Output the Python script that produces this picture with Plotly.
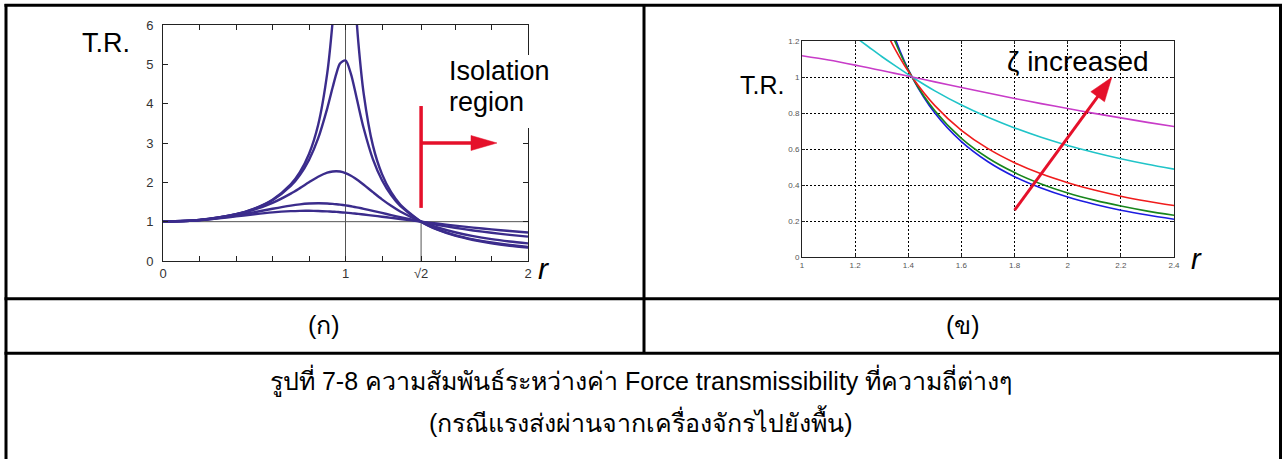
import math
import plotly.graph_objects as go

W, H = 1282, 459

# ---------------- left panel: T.R. versus r, five damping ratios ----------------
r_left = [0, 0.2, 0.4, 0.5, 0.6, 0.7, 0.75, 0.8, 0.85, 0.9, 0.93, 0.95, 0.97, 1.0,
          1.03, 1.05, 1.07, 1.1, 1.15, 1.2, 1.25, 1.3, 1.4142, 1.5, 1.6, 1.7, 1.8, 1.9, 2.0]
tr_left_z005 = [1.0, 1.042, 1.190, 1.332, 1.558, 1.947, 2.259, 2.720, 3.458, 4.776, 6.12, 7.38, 8.85, 10.05,
                8.40, 6.85, 5.58, 4.244, 2.940, 2.208, 1.749, 1.436, 1.0, 0.803, 0.646, 0.535, 0.452, 0.389, 0.339]
tr_left_z010 = [1.0, 1.042, 1.189, 1.328, 1.547, 1.909, 2.186, 2.571, 3.117, 3.882, 4.424, 4.766, 5.023, 5.099,
                4.753, 4.373, 3.957, 3.367, 2.591, 2.052, 1.675, 1.401, 1.0, 0.812, 0.659, 0.550, 0.469, 0.406, 0.356]
tr_left_z025 = [1.0, 1.041, 1.181, 1.304, 1.477, 1.713, 1.853, 2.001, 2.141, 2.245, 2.277, 2.283, 2.275, 2.236,
                2.169, 2.111, 2.046, 1.938, 1.750, 1.567, 1.403, 1.258, 1.0, 0.858, 0.731, 0.633, 0.557, 0.497, 0.447]
tr_left_z050 = [1.0, 1.040, 1.158, 1.240, 1.329, 1.409, 1.440, 1.460, 1.468, 1.463, 1.453, 1.444, 1.434, 1.414,
                1.391, 1.374, 1.356, 1.327, 1.276, 1.222, 1.168, 1.114, 1.0, 0.923, 0.844, 0.776, 0.717, 0.665, 0.620]
tr_left_z070 = [1.0, 1.039, 1.135, 1.190, 1.237, 1.267, 1.275, 1.276, 1.272, 1.262, 1.254, 1.248, 1.241, 1.229,
                1.216, 1.207, 1.197, 1.181, 1.154, 1.126, 1.097, 1.067, 1.0, 0.952, 0.899, 0.849, 0.804, 0.763, 0.725]
left_series = [tr_left_z005, tr_left_z010, tr_left_z025, tr_left_z050, tr_left_z070]

left_tickvals = [0, 0.2, 0.4, 0.6, 0.8, 1.0, 1.2, 1.4142, 1.6, 1.8, 2.0]
left_ticktext = ["0", "", "", "", "", "1", "", "√2", "", "", "2"]
left_yticks = [0, 1, 2, 3, 4, 5, 6]

# ---------------- right panel: zoom on the isolation region ----------------
r_right = [1.0, 1.1, 1.2, 1.25, 1.3, 1.35, 1.4142, 1.5, 1.6, 1.7, 1.8, 1.9, 2.0, 2.1, 2.2, 2.3, 2.4]
tr_right_blue = [None, None, 2.273, 1.778, 1.449, 1.216, 1.0, 0.800, 0.641, 0.529, 0.446, 0.383, 0.333, 0.293, 0.260, 0.233, 0.210]
tr_right_green = [None, None, 2.052, 1.675, 1.401, 1.197, 1.0, 0.812, 0.659, 0.550, 0.469, 0.406, 0.356, 0.316, 0.283, 0.255, 0.232]
tr_right_red = [None, None, 1.704, 1.486, 1.305, 1.155, 1.0, 0.841, 0.704, 0.602, 0.524, 0.462, 0.413, 0.372, 0.338, 0.310, 0.286]
tr_right_cyan = [1.414, 1.327, 1.222, 1.168, 1.114, 1.063, 1.0, 0.923, 0.844, 0.776, 0.717, 0.665, 0.620, 0.581, 0.546, 0.515, 0.488]
tr_right_magenta = [1.118, 1.094, 1.066, 1.051, 1.036, 1.020, 1.0, 0.973, 0.942, 0.911, 0.881, 0.852, 0.825, 0.798, 0.773, 0.748, 0.725]
right_series = [tr_right_blue, tr_right_green, tr_right_red, tr_right_cyan, tr_right_magenta]
right_colors = ["#1c1ce0", "#18861c", "#f01c1c", "#20c4c8", "#c83cc8"]

right_xticks = [1, 1.2, 1.4, 1.6, 1.8, 2, 2.2, 2.4]
right_yticks = [0, 0.2, 0.4, 0.6, 0.8, 1, 1.2]

# panel boxes in pixels (left, top, right, bottom)
L_BOX = (163, 25, 528, 261)
R_BOX = (802, 41, 1174, 257)
L_RANGE = ((0, 2), (0, 6))
R_RANGE = ((1, 2.4), (0, 1.2))

PURPLE = "#3b2c8c"
RED = "#e5102a"
FONT = "Liberation Sans, Arial, sans-serif"
CAPTION_FONT = "Liberation Sans Narrow, Arial Narrow, Liberation Sans, sans-serif"


def px(x):
    return x / W


def py(y):
    return 1 - y / H


fig = go.Figure()

for ys in left_series:
    fig.add_trace(go.Scatter(x=r_left, y=ys, mode="lines", xaxis="x", yaxis="y",
                             line=dict(color=PURPLE, width=2.4, shape="spline", smoothing=0.8),
                             hoverinfo="skip", cliponaxis=True))

for ys, col in zip(right_series, right_colors):
    fig.add_trace(go.Scatter(x=r_right, y=ys, mode="lines", xaxis="x2", yaxis="y2",
                             line=dict(color=col, width=1.6, shape="spline", smoothing=0.8),
                             hoverinfo="skip", connectgaps=False))

shapes = []

# reference lines on the left panel
shapes.append(dict(type="line", xref="x", yref="y", x0=1, x1=1, y0=0, y1=6,
                   line=dict(color="#555555", width=1), layer="below"))
shapes.append(dict(type="line", xref="x", yref="y", x0=0, x1=2, y0=1, y1=1,
                   line=dict(color="#555555", width=1), layer="below"))
shapes.append(dict(type="line", xref="x", yref="y", x0=1.4142, x1=1.4142, y0=0, y1=1,
                   line=dict(color="#555555", width=1), layer="below"))


def arrow(x0, y0, x1, y1, box, rng, xref, yref, head_len, head_w, width):
    """Red arrow: a line plus a filled triangular head, sized in pixels."""
    sx = (box[2] - box[0]) / (rng[0][1] - rng[0][0])
    sy = (box[3] - box[1]) / (rng[1][1] - rng[1][0])
    dx, dy = (x1 - x0) * sx, (y1 - y0) * sy
    n = math.hypot(dx, dy)
    ux, uy = dx / n, dy / n
    bx, by = x1 - ux * head_len / sx, y1 - uy * head_len / sy
    nx, ny = -uy, ux
    p1 = (bx + nx * head_w / 2 / sx, by + ny * head_w / 2 / sy)
    p2 = (bx - nx * head_w / 2 / sx, by - ny * head_w / 2 / sy)
    out = [dict(type="line", xref=xref, yref=yref, x0=x0, y0=y0,
                x1=bx + ux * 2 / sx, y1=by + uy * 2 / sy,
                line=dict(color=RED, width=width), layer="above"),
           dict(type="path", xref=xref, yref=yref,
                path=f"M{x1},{y1} L{p1[0]},{p1[1]} L{p2[0]},{p2[1]} Z",
                fillcolor=RED, line=dict(color=RED, width=0.5), layer="above")]
    return out


# white box behind "Isolation region" that interrupts the frame
shapes.append(dict(type="rect", xref="paper", yref="paper", x0=px(442), x1=px(560),
                   y0=py(128), y1=py(55), fillcolor="white", line=dict(width=0), layer="above"))

# isolation-region marker
shapes.append(dict(type="line", xref="x", yref="y", x0=1.4142, x1=1.4142, y0=1.35, y1=3.94,
                   line=dict(color=RED, width=3.5), layer="above"))
shapes += arrow(1.4142, 3.0, 1.83, 3.0, L_BOX, L_RANGE, "x", "y", 26, 15, 3.5)

# damping arrow on the right panel
shapes += arrow(1.8, 0.26, 2.166, 0.998, R_BOX, R_RANGE, "x2", "y2", 24, 17, 3)

# table rules
TL = dict(color="black", width=3)
shapes += [
    dict(type="line", xref="paper", yref="paper", x0=px(4.5), x1=px(1282), y0=py(5.3), y1=py(5.3), line=TL),
    dict(type="line", xref="paper", yref="paper", x0=px(6), x1=px(6), y0=py(4), y1=0, line=TL),
    dict(type="line", xref="paper", yref="paper", x0=px(1280.5), x1=px(1280.5), y0=py(4), y1=0, line=TL),
    dict(type="line", xref="paper", yref="paper", x0=px(644), x1=px(644), y0=py(4), y1=py(354), line=TL),
    dict(type="line", xref="paper", yref="paper", x0=px(4.5), x1=px(1282), y0=py(298.7), y1=py(298.7), line=TL),
    dict(type="line", xref="paper", yref="paper", x0=px(4.5), x1=px(1282), y0=py(353.3), y1=py(353.3), line=TL),
]

annotations = []


def label(text, x, y, size, xanchor="center", yanchor="middle", italic=False, color="black", family=FONT):
    annotations.append(dict(text=f"<i>{text}</i>" if italic else text, x=px(x), y=py(y),
                            xref="paper", yref="paper", showarrow=False,
                            xanchor=xanchor, yanchor=yanchor,
                            font=dict(family=family, size=size, color=color)))


label("T.R.", 106, 43, 27)
label("Isolation", 447, 71, 27, xanchor="left")
label("region", 447, 102, 27, xanchor="left")
label("r", 543, 268, 30, italic=True)

label("T.R.", 762, 85, 25)
label("ζ increased", 1078, 61, 28)
label("r", 1196, 259, 29, italic=True)

label("(ก)", 324, 325, 25, family=CAPTION_FONT)
label("(ข)", 963, 325, 25, family=CAPTION_FONT)
label("รูปที่ 7-8 ความสัมพันธ์ระหว่างค่า Force transmissibility ที่ความถี่ต่างๆ", 641, 380, 25,
      family=CAPTION_FONT)
label("(กรณีแรงส่งผ่านจากเครื่องจักรไปยังพื้น)", 641, 421, 25, family=CAPTION_FONT)

axis_common = dict(showline=True, linecolor="#222222", linewidth=1, mirror="allticks",
                   ticks="inside", zeroline=False, fixedrange=True, automargin=False)

fig.update_layout(
    template="none",
    width=W, height=H, autosize=False,
    margin=dict(l=0, r=0, t=0, b=0, pad=0, autoexpand=False),
    paper_bgcolor="white", plot_bgcolor="white", showlegend=False,
    xaxis=dict(domain=[px(L_BOX[0]), px(L_BOX[2])], range=list(L_RANGE[0]), anchor="y",
               tickvals=left_tickvals, ticktext=left_ticktext, ticklen=5, tickcolor="#222222",
               showgrid=False, tickfont=dict(family=FONT, size=13, color="#333333"), **axis_common),
    yaxis=dict(domain=[py(L_BOX[3]), py(L_BOX[1])], range=list(L_RANGE[1]), anchor="x",
               tickvals=left_yticks, ticklen=5, tickcolor="#222222", showgrid=False,
               ticklabelstandoff=6,
               tickfont=dict(family=FONT, size=13, color="#333333"), **axis_common),
    xaxis2=dict(domain=[px(R_BOX[0]), px(R_BOX[2])], range=list(R_RANGE[0]), anchor="y2",
                tickvals=right_xticks, ticklen=3, tickcolor="#222222",
                showgrid=True, gridcolor="black", griddash="2px,2px", gridwidth=1,
                tickfont=dict(family=FONT, size=8, color="#555555"), **axis_common),
    yaxis2=dict(domain=[py(R_BOX[3]), py(R_BOX[1])], range=list(R_RANGE[1]), anchor="x2",
                tickvals=right_yticks, ticklen=3, tickcolor="#222222",
                showgrid=True, gridcolor="black", griddash="2px,2px", gridwidth=1,
                tickfont=dict(family=FONT, size=8, color="#555555"), **axis_common),
    shapes=shapes,
    annotations=annotations,
)

# the page body keeps no margin so the figure sits at the window origin
fig.write_html("out.html",
               post_script="document.body.style.margin='0';document.body.style.overflow='hidden';")
